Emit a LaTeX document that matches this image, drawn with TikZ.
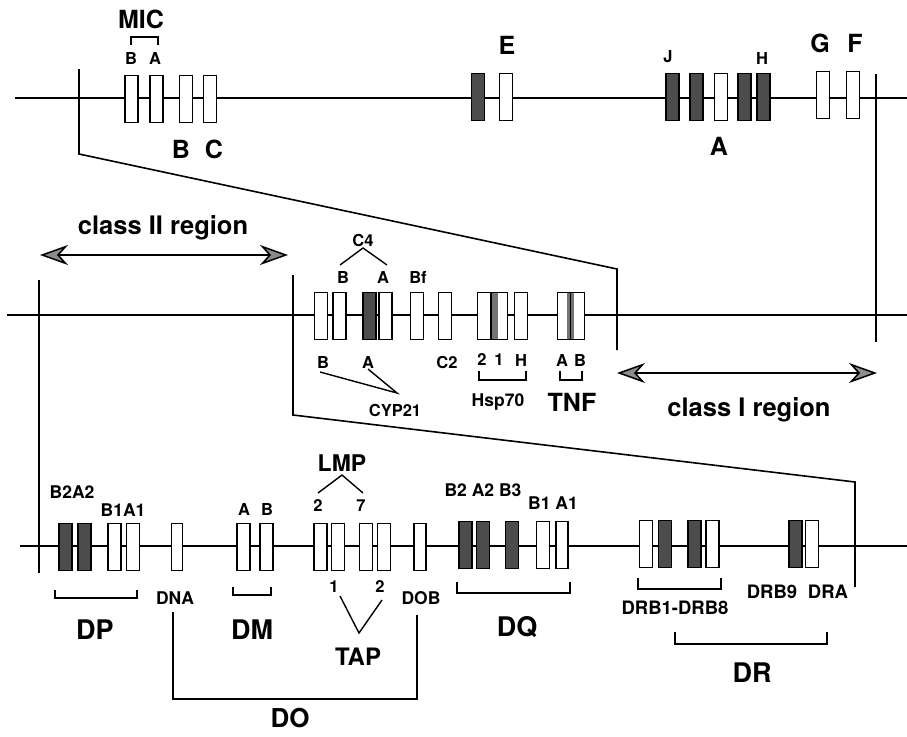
\documentclass[tikz,border=0pt]{standalone}
\usepackage{fontspec}
\setmainfont{TeX Gyre Heros}
\usetikzlibrary{arrows.meta}
\newcommand\fsz[1]{\fontsize{#1}{#1}\selectfont}
\begin{document}
\begin{tikzpicture}[x=1pt,y=-1pt,
  chrom/.style={line width=1.6pt},
  frame/.style={line width=1.6pt},
  gene/.style={draw, line width=1.6pt, fill=white, minimum width=13pt, minimum height=47pt, inner sep=0, outer sep=0},
  pgene/.style={gene, fill=black!70},
  lbl/.style={inner sep=0, font=\bfseries\fsz{16.5}},
  mlbl/.style={inner sep=0, font=\bfseries\fsz{23}},
  big/.style={inner sep=0, font=\bfseries\fsz{25}},
  wbig/.style={inner sep=0, font=\bfseries\fsz{27}},
  brk/.style={line width=1.4pt},
  regarrow/.style={line width=1.5pt, {Stealth[length=28pt,width=20pt,inset=9pt,fill=black!45]}-{Stealth[length=28pt,width=20pt,inset=9pt,fill=black!45]}},
]
\useasboundingbox (0,0) rectangle (907,736);

% ---------------- Row 1 ----------------
\coordinate (r1s) at (15,98); \coordinate (r1e) at (907,98);
\draw[chrom] (r1s) -- (r1e);
\node[gene]  (micB) at (131.5,99) {};
\node[gene]  (micA) at (156.5,99) {};
\node[gene]  (mhcB) at (186,99) {};
\node[gene]  (mhcC) at (210,99) {};
\node[pgene] (eP)   at (478,97) {};
\node[gene]  (eW)   at (506,97) {};
\node[pgene] (j1)   at (672.5,97) {};
\node[pgene] (j2)   at (696.5,97) {};
\node[gene]  (aW)   at (721,97) {};
\node[pgene] (j4)   at (744.5,97) {};
\node[pgene] (hP)   at (763.5,97) {};
\node[gene]  (gW)   at (823,95) {};
\node[gene]  (fW)   at (853,95) {};

\node[big] (tMIC) at (141,19) {MIC};
\coordinate (mb1) at (131,45); \coordinate (mb2) at (131,37);
\coordinate (mb3) at (158,37); \coordinate (mb4) at (158,45);
\draw[brk] (mb1) -- (mb2) -- (mb3) -- (mb4);
\node[lbl] (tmB) at (131,58) {B};
\node[lbl] (tmA) at (155,58) {A};
\node[big] (tB) at (181,149) {B};
\node[big] (tC) at (214,149) {C};
\node[big] (tE) at (507,45) {E};
\node[lbl] (tJ) at (668,57) {J};
\node[lbl] (tH) at (762,58) {H};
\node[big] (tA) at (719,146) {A};
\node[big] (tG) at (820,43) {G};
\node[big] (tF) at (855,43) {F};

% zoom frame 1
\coordinate (z1a) at (79,69); \coordinate (z1b) at (79,154);
\coordinate (z1c) at (617,269); \coordinate (z1d) at (617,350);
\draw[frame] (z1a) -- (z1b) -- (z1c) -- (z1d);
\coordinate (z1e) at (876,74); \coordinate (z1f) at (876,342);
\draw[frame] (z1e) -- (z1f);

% ---------------- Row 2 ----------------
\coordinate (r2s) at (7,315); \coordinate (r2e) at (907,315);
\draw[chrom] (r2s) -- (r2e);
\node[gene]  (c4b1) at (321,316) {};
\node[gene]  (c4b2) at (339.5,316) {};
\node[pgene] (c4a1) at (369.5,316) {};
\node[gene]  (c4a2) at (385.5,316) {};
\node[gene]  (bf)   at (417,316) {};
\node[gene]  (c2)   at (445,316) {};
\node[gene]  (hsp2) at (484,316) {};
\node[gene, minimum width=16pt] (hsp1) at (499.5,316) {};
\fill[black!55] ([xshift=0.8pt,yshift=-0.8pt]hsp1.north west) rectangle ([xshift=6pt,yshift=0.8pt]hsp1.south west);
\node[gene]  (hspH) at (521,316) {};
\node[gene]  (tnfA) at (564,316) {};
\node[gene]  (tnfB) at (578,316) {};
\fill[black!55] ([xshift=-3.5pt,yshift=-0.8pt]tnfA.north east) rectangle ([xshift=3.5pt,yshift=0.8pt]tnfA.south east);
\draw[line width=1pt] (tnfA.north east) -- (tnfA.south east);

\node[lbl] (tC4) at (363,240) {C4};
\coordinate (c4l) at (340,265); \coordinate (c4t) at (363,248); \coordinate (c4r) at (387,265);
\draw[brk] (c4l) -- (c4t) -- (c4r);
\node[lbl] (tc4B) at (343,277) {B};
\node[lbl] (tc4A) at (383,277) {A};
\node[lbl] (tBf) at (418,277) {Bf};
\node[lbl] (tcyB) at (323,362) {B};
\node[lbl] (tcyA) at (368,362) {A};
\node[lbl] (tC2) at (447,362) {C2};
\node[lbl] (tCYP) at (395,410) {CYP21};
\coordinate (cy1) at (320,372); \coordinate (cy2) at (368,369); \coordinate (cyv) at (397,393);
\draw[brk] (cy1) -- (cyv) -- (cy2);
\node[lbl] (th2) at (482,360) {2};
\node[lbl] (th1) at (499,360) {1};
\node[lbl] (thH) at (521,360) {H};
\draw[brk] (479,371) -- (479,380) -- (526,380) -- (526,371);
\node[lbl, font=\bfseries\fsz{17.5}] (tHsp) at (498,402) {Hsp70};
\node[lbl] (ttA) at (562,360) {A};
\node[lbl] (ttB) at (580,360) {B};
\draw[brk] (560,371) -- (560,380) -- (582,380) -- (582,371);
\node[big] (tTNF) at (572,402) {TNF};

\coordinate (c2a) at (40,255); \coordinate (c2b) at (288,255);
\draw[regarrow] (c2a) -- (c2b);
\node[big, font=\bfseries\fsz{25.5}] (tc2) at (163,228) {class II region};
\coordinate (c1a) at (617,373); \coordinate (c1b) at (877,373);
\draw[regarrow] (c1a) -- (c1b);
\node[big, font=\bfseries\fsz{25.5}] (tc1) at (749,410) {class I region};

% zoom frame 2
\coordinate (z2a) at (39,280); \coordinate (z2b) at (39,573);
\draw[frame] (z2a) -- (z2b);
\coordinate (z2c) at (293,275); \coordinate (z2d) at (293,415);
\coordinate (z2e) at (855,482); \coordinate (z2f) at (855,587);
\draw[frame] (z2c) -- (z2d) -- (z2e) -- (z2f);

% ---------------- Row 3 ----------------
\coordinate (r3s) at (20,546); \coordinate (r3e) at (907,546);
\draw[chrom] (r3s) -- (r3e);
\node[pgene] (dp1) at (65.5,547) {};
\node[pgene] (dp2) at (84.5,547) {};
\node[gene]  (dp3) at (114.5,547) {};
\node[gene]  (dp4) at (133,547) {};
\node[gene, minimum width=11pt] (dna) at (177,547) {};
\node[gene]  (dmA) at (243.5,547) {};
\node[gene]  (dmB) at (266.5,547) {};
\node[gene]  (lmp2) at (320.5,547) {};
\node[gene]  (tap1) at (338,547) {};
\node[gene]  (lmp7) at (366,547) {};
\node[gene]  (tap2) at (384,547) {};
\node[gene, minimum width=12pt] (dob) at (420,547) {};
\node[pgene] (dq1) at (465.5,545) {};
\node[pgene] (dq2) at (483,545) {};
\node[pgene] (dq3) at (512,545) {};
\node[gene]  (dq4) at (543,545) {};
\node[gene, minimum width=12pt] (dq5) at (562,545) {};
\node[gene]  (dr1) at (646,544) {};
\node[pgene] (dr2) at (665,544) {};
\node[pgene] (dr3) at (694.5,544) {};
\node[gene]  (dr4) at (712.5,544) {};
\node[pgene] (drb9) at (795.5,544) {};
\node[gene]  (dra) at (812,544) {};

\node[lbl, font=\bfseries\fsz{17.5}] (tB2A2) at (72,492) {B2A2};
\node[lbl, font=\bfseries\fsz{17.5}] (tB1A1) at (123,510) {B1A1};
\draw[brk] (55,590) -- (55,598) -- (137,598) -- (137,590);
\node[wbig] (tDP) at (95,630) {DP};
\node[lbl, font=\bfseries\fsz{17.5}] (tDNA) at (175,598) {DNA};
\node[lbl, font=\bfseries\fsz{17.5}] (tDOB) at (421,598) {DOB};
\coordinate (do1) at (173,612); \coordinate (do2) at (173,699);
\coordinate (do3) at (417,699); \coordinate (do4) at (417,615);
\draw[brk] (do1) -- (do2) -- (do3) -- (do4);
\node[wbig, font=\bfseries\fsz{26}] (tDO) at (290,718) {DO};
\node[lbl] (tdmA) at (244,509) {A};
\node[lbl] (tdmB) at (267,509) {B};
\draw[brk] (233,587) -- (233,595) -- (271,595) -- (271,587);
\node[wbig] (tDM) at (252,630) {DM};
\node[mlbl] (tLMP) at (342,463) {LMP};
\coordinate (lm1) at (318,493); \coordinate (lmt) at (342,475); \coordinate (lm2) at (363,493);
\draw[brk] (lm1) -- (lmt) -- (lm2);
\node[lbl] (tl2) at (318,506) {2};
\node[lbl] (tl7) at (361,506) {7};
\node[lbl] (tt1) at (334,587) {1};
\node[lbl] (tt2) at (380,587) {2};
\coordinate (ta1) at (340,596); \coordinate (tav) at (359,633); \coordinate (ta2) at (382,600);
\draw[brk] (ta1) -- (tav) -- (ta2);
\node[big, font=\bfseries\fsz{24}] (tTAP) at (358,657) {TAP};
\node[lbl, font=\bfseries\fsz{17.5}] (tdqa) at (483,490) {B2 A2 B3};
\node[lbl, font=\bfseries\fsz{17.5}] (tdqb) at (553,503) {B1 A1};
\draw[brk] (457,582) -- (457,593) -- (570,593) -- (570,582);
\node[wbig] (tDQ) at (517,627) {DQ};
\draw[brk] (638,578) -- (638,589) -- (721,589) -- (721,578);
\node[lbl, font=\bfseries\fsz{18.5}] (tDRB) at (675,608) {DRB1-DRB8};
\node[lbl, font=\bfseries\fsz{18.5}] (tDRB9) at (772,592) {DRB9};
\node[lbl, font=\bfseries\fsz{18.5}] (tDRA) at (828,592) {DRA};
\draw[brk] (675,632) -- (675,644) -- (827,644) -- (827,632);
\node[wbig] (tDR) at (752,673) {DR};
\end{tikzpicture}
\end{document}
